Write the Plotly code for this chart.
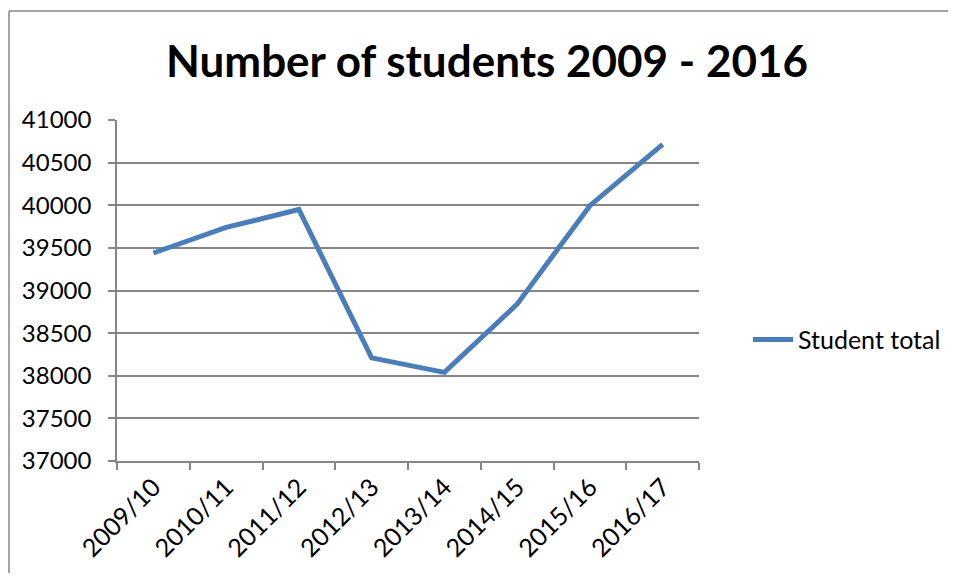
import plotly.graph_objects as go

years = ["2009/10", "2010/11", "2011/12", "2012/13", "2013/14", "2014/15", "2015/16", "2016/17"]
student_total = [39440, 39740, 39950, 38210, 38040, 38840, 39995, 40715]
y_ticks = [37000, 37500, 38000, 38500, 39000, 39500, 40000, 40500, 41000]

OFF = 8  # page body margin
W, H = 940, 565
L, R, T, B = 117 - OFF, 699 - OFF, 120 - OFF, 461.3 - OFF

fig = go.Figure()
fig.add_trace(go.Scatter(
    x=years, y=student_total, mode="lines", name="Student total",
    line=dict(color="#4A7EBB", width=5),
))

def px(x):
    return (x - OFF - L) / (R - L)

def py(y):
    return (B - (y - OFF)) / (B - T)

border = dict(color="#868686", width=1.5)
fig.add_shape(type="line", xref="paper", yref="paper",
              x0=px(9), x1=px(9), y0=py(640), y1=py(11), line=border, layer="below")
fig.add_shape(type="line", xref="paper", yref="paper",
              x0=px(9), x1=px(1000), y0=py(11), y1=py(11), line=border, layer="below")

fig.update_layout(
    width=W, height=H,
    margin=dict(l=L, r=W - R, t=T, b=H - B, pad=0, autoexpand=False),
    paper_bgcolor="white", plot_bgcolor="white",
    font=dict(family="Lato", color="black", size=25),
    title=dict(text="<b>Number of students 2009 - 2016</b>",
               font=dict(family="Lato", size=44, color="black"),
               x=(487 - OFF) / W, xanchor="center", y=1 - (62 - OFF) / H, yanchor="middle"),
    showlegend=True,
    legend=dict(x=px(748), y=py(340), xanchor="left", yanchor="middle",
                font=dict(family="Lato", size=25, color="black"),
                bgcolor="rgba(0,0,0,0)", itemwidth=40, tracegroupgap=0),
    xaxis=dict(type="category", showgrid=False, showline=True, linecolor="#868686", linewidth=1.5,
               ticks="outside", tickson="boundaries", ticklen=7, tickcolor="#868686", tickwidth=1.5,
               tickangle=-45,
               tickfont=dict(family="Lato", size=25, color="black"),
               range=[-0.5, len(years) - 0.5], fixedrange=True),
    yaxis=dict(range=[37000, 41000], tickvals=y_ticks, ticktext=[str(v) for v in y_ticks],
               showgrid=True, gridcolor="#868686", gridwidth=1.5,
               showline=True, linecolor="#868686", linewidth=1.5,
               ticks="outside", ticklen=7, tickcolor="#868686", tickwidth=1.5,
               ticklabelstandoff=12,
               tickfont=dict(family="Lato", size=24, color="black"), zeroline=False),
)

fig.write_html("out.html")
